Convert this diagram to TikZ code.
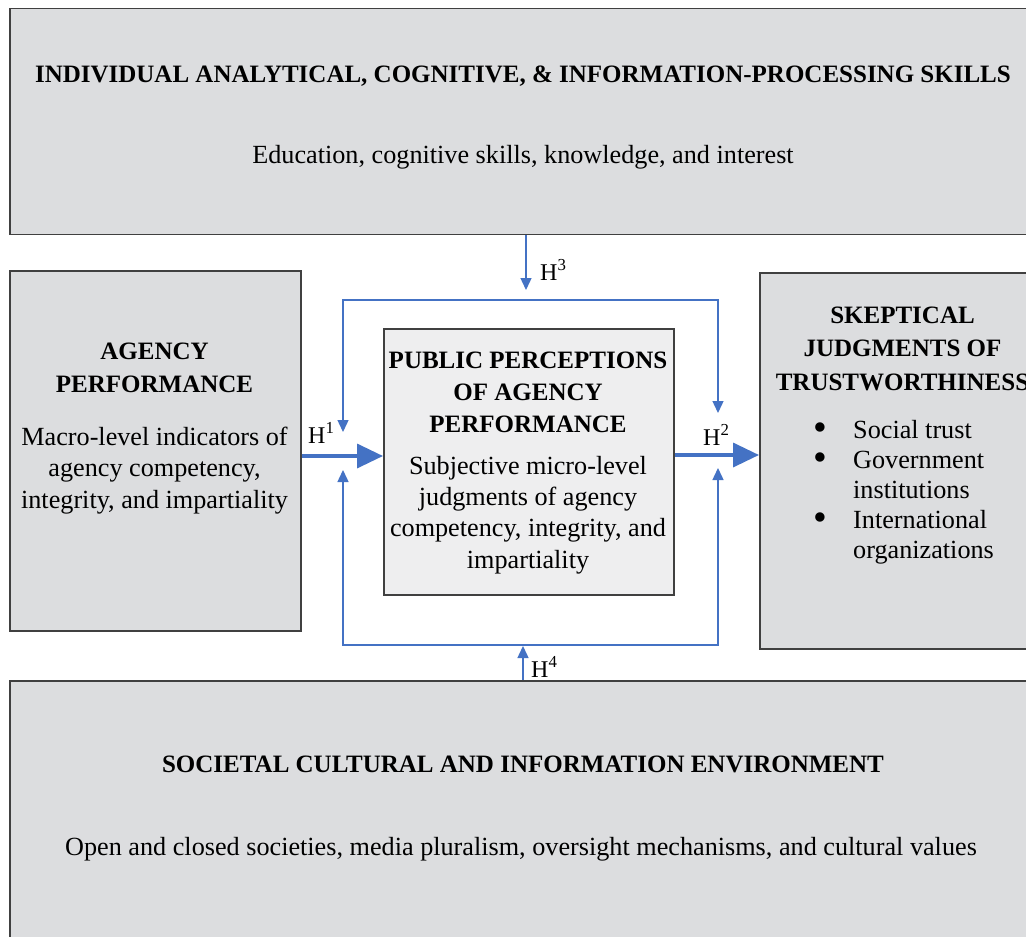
\documentclass[tikz,border=0pt]{standalone}
\usepackage{fontspec}
\setmainfont{Liberation Serif}
\usetikzlibrary{arrows.meta}
\definecolor{panel}{HTML}{DCDDDF}
\definecolor{panellight}{HTML}{EEEEEF}
\definecolor{edge}{HTML}{404040}
\definecolor{hblue}{HTML}{4472C4}
\newcommand{\dotitem}{\makebox[40pt][l]{\raisebox{-2pt}{\scalebox{1.5}{\textbullet}}}}
\begin{document}
\begin{tikzpicture}[x=1pt, y=-1pt, >={Triangle[length=12pt, width=11pt]},
    box/.style={draw=edge, line width=1.6pt, fill=panel, anchor=north west, inner sep=0pt},
    head/.style={anchor=base, align=center, inner sep=0pt, font=\fontsize{25}{33}\selectfont\bfseries},
    body/.style={anchor=base, align=center, inner sep=0pt, font=\fontsize{26.2}{31.5}\selectfont},
    hyp/.style={anchor=base west, inner sep=0pt, font=\fontsize{24}{28}\selectfont},
    link/.style={hblue, line width=1.4pt},
    main/.style={hblue, line width=3.5pt, -{Triangle[length=26pt, width=24pt]}}]
            \useasboundingbox (0,0) rectangle (1026,937);
            \clip (0,0) rectangle (1026,937);
            \fill[white] (0,0) rectangle (1026,937);
            \node[box, minimum width=1028pt, minimum height=226pt] (skills) at (9,7.5) {};
            \node[box, minimum width=291pt, minimum height=360pt] (agency) at (9,270) {};
            \node[box, fill=panellight, minimum width=290pt, minimum height=266pt] (perception) at (383,328) {};
            \node[box, minimum width=287pt, minimum height=376pt] (trust) at (759,272) {};
            \node[box, minimum width=1028pt, minimum height=300pt] (society) at (9,680) {};
            \node[head] (skillshead) at (523,82) {INDIVIDUAL ANALYTICAL, COGNITIVE, \& INFORMATION-PROCESSING SKILLS};
            \node[body] (skillstext) at (523,163) {Education, cognitive skills, knowledge, and interest};
            \node[head] (agencyhead) at (154.5,392) {AGENCY\\PERFORMANCE};
            \node[body] (agencytext) at (154.5,508) {Macro-level indicators of\\agency competency,\\integrity, and impartiality};
            \node[head, font=\fontsize{25}{32}\selectfont\bfseries] (perchead) at (528,432) {PUBLIC PERCEPTIONS\\OF AGENCY\\PERFORMANCE};
            \node[body, font=\fontsize{26.2}{31.3}\selectfont] (perctext) at (528,568) {Subjective micro-level\\judgments of agency\\competency, integrity, and\\impartiality};
            \node[head, font=\fontsize{25}{33.5}\selectfont\bfseries] (trusthead) at (902.5,390) {SKEPTICAL\\JUDGMENTS OF\\TRUSTWORTHINESS};
            \node[body, anchor=base west, align=left, font=\fontsize{26.2}{30}\selectfont] (trustlist) at (813,558)
                {\dotitem Social trust\\\dotitem Government\\\hspace*{40pt}institutions\\\dotitem International\\\hspace*{40pt}organizations};
            \node[head] (societyhead) at (523,772) {SOCIETAL CULTURAL AND INFORMATION ENVIRONMENT};
            \node[body] (societytext) at (521,855) {Open and closed societies, media pluralism, oversight mechanisms, and cultural values};
            \coordinate (fne) at (718,300); \coordinate (fse) at (718,645);
            \coordinate (h3tip) at (526,290); \coordinate (h4tip) at (523,646);
            \coordinate (h1y) at (0,456); \coordinate (h2y) at (0,455);
            \draw[link, <->] (343,432) |- (fne) -- (718,413);
            \draw[link, <->] (343,470) |- (fse) -- (718,468);
            \draw[link, ->] (skills.south -| h3tip) -- (h3tip);
            \draw[link, ->] (society.north -| h4tip) -- (h4tip);
            \draw[main] (agency.east |- h1y) -- (perception.west |- h1y);
            \draw[main] (perception.east |- h2y) -- (trust.west |- h2y);
            \node[hyp] (h3) at (540,280) {H\textsuperscript{3}};
            \node[hyp] (h4) at (531,677) {H\textsuperscript{4}};
            \node[hyp] (h1) at (308,443) {H\textsuperscript{1}};
            \node[hyp] (h2) at (703,445) {H\textsuperscript{2}};
        \end{tikzpicture}
\end{document}
